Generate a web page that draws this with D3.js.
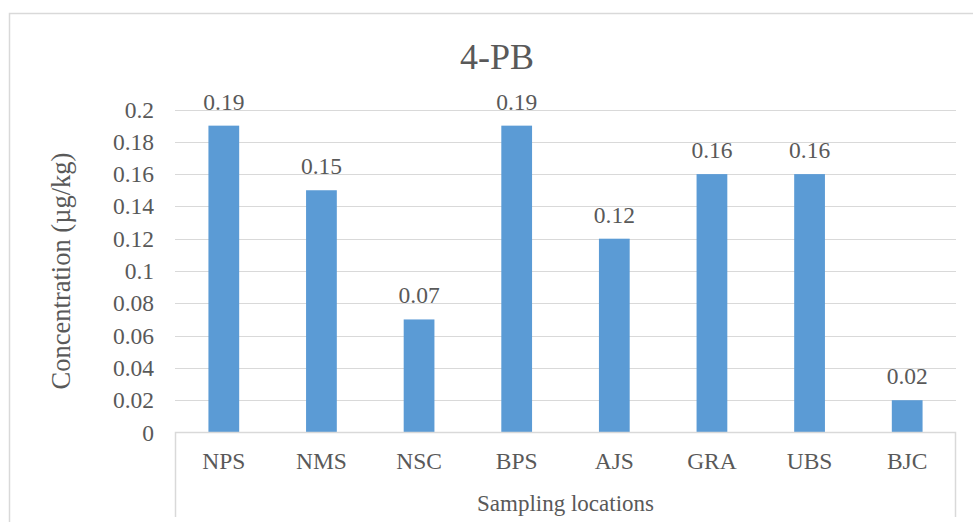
<!DOCTYPE html>
<html>
<head>
<meta charset="utf-8">
<script src="https://cdn.jsdelivr.net/npm/d3@7"></script>
<style>
  html, body { margin: 0; padding: 0; background: #fff; }
  svg { display: block; }
  text { font-family: "Liberation Serif", "Times New Roman", serif; fill: #595959; }
</style>
</head>
<body>
<svg id="chart" width="973" height="522"></svg>
<script>
// 4-PB concentration per sampling location
const categories = ["NPS", "NMS", "NSC", "BPS", "AJS", "GRA", "UBS", "BJC"];
const values = [0.19, 0.15, 0.07, 0.19, 0.12, 0.16, 0.16, 0.02];
const yTicks = [0, 0.02, 0.04, 0.06, 0.08, 0.1, 0.12, 0.14, 0.16, 0.18, 0.2];
const titleText = "4-PB";
const yTitle = "Concentration (µg/kg)";
const xTitle = "Sampling locations";

const svg = d3.select("#chart");
const plot = { left: 175, right: 956, top: 109.5, bottom: 432.5 };

// outer chart frame
svg.append("rect")
  .attr("x", 9.5).attr("y", 13.5)
  .attr("width", 1000).attr("height", 600)
  .attr("fill", "none").attr("stroke", "#d9d9d9").attr("stroke-width", 1.5);

const x = d3.scaleBand().domain(categories).range([plot.left, plot.right]).paddingInner(0).paddingOuter(0);
const y = d3.scaleLinear().domain([0, 0.2]).range([plot.bottom, plot.top]);

// horizontal gridlines
svg.append("g")
  .selectAll("line")
  .data(yTicks.filter(d => d > 0))
  .join("line")
  .attr("x1", plot.left).attr("x2", plot.right)
  .attr("y1", d => Math.round(y(d)) + 0.5).attr("y2", d => Math.round(y(d)) + 0.5)
  .attr("stroke", "#d9d9d9").attr("stroke-width", 1.2);

// y tick labels
svg.append("g")
  .selectAll("text")
  .data(yTicks)
  .join("text")
  .attr("x", 154)
  .attr("y", d => y(d) + 8)
  .attr("text-anchor", "end")
  .attr("font-size", 23.5)
  .text(d => d3.format("~g")(d));

// bars
const bw = x.bandwidth() * 0.315;
svg.append("g")
  .selectAll("rect")
  .data(values)
  .join("rect")
  .attr("x", (d, i) => x(categories[i]) + (x.bandwidth() - bw) / 2)
  .attr("y", d => y(d))
  .attr("width", bw)
  .attr("height", d => y(0) - y(d))
  .attr("fill", "#5b9bd5");

// value labels
svg.append("g")
  .selectAll("text")
  .data(values)
  .join("text")
  .attr("x", (d, i) => x(categories[i]) + x.bandwidth() / 2)
  .attr("y", d => y(d) - 16)
  .attr("text-anchor", "middle")
  .attr("font-size", 23.5)
  .text(d => d3.format(".2f")(d));

// category axis box
const axisColor = "#d9d9d9";
svg.append("path")
  .attr("d", `M${plot.left + 0.5},517 V${plot.bottom} H${plot.right - 0.5} V517`)
  .attr("fill", "none").attr("stroke", axisColor).attr("stroke-width", 1.5);

// category labels
svg.append("g")
  .selectAll("text")
  .data(categories)
  .join("text")
  .attr("x", d => x(d) + x.bandwidth() / 2)
  .attr("y", 469)
  .attr("text-anchor", "middle")
  .attr("font-size", 23.5)
  .text(d => d);

// axis titles
svg.append("text")
  .attr("x", (plot.left + plot.right) / 2)
  .attr("y", 511)
  .attr("text-anchor", "middle")
  .attr("font-size", 23)
  .text(xTitle);

svg.append("text")
  .attr("transform", `translate(70,271) rotate(-90)`)
  .attr("text-anchor", "middle")
  .attr("font-size", 26.5)
  .text(yTitle);

// chart title
svg.append("text")
  .attr("x", 497)
  .attr("y", 69)
  .attr("text-anchor", "middle")
  .attr("font-size", 36)
  .text(titleText);
</script>
</body>
</html>
